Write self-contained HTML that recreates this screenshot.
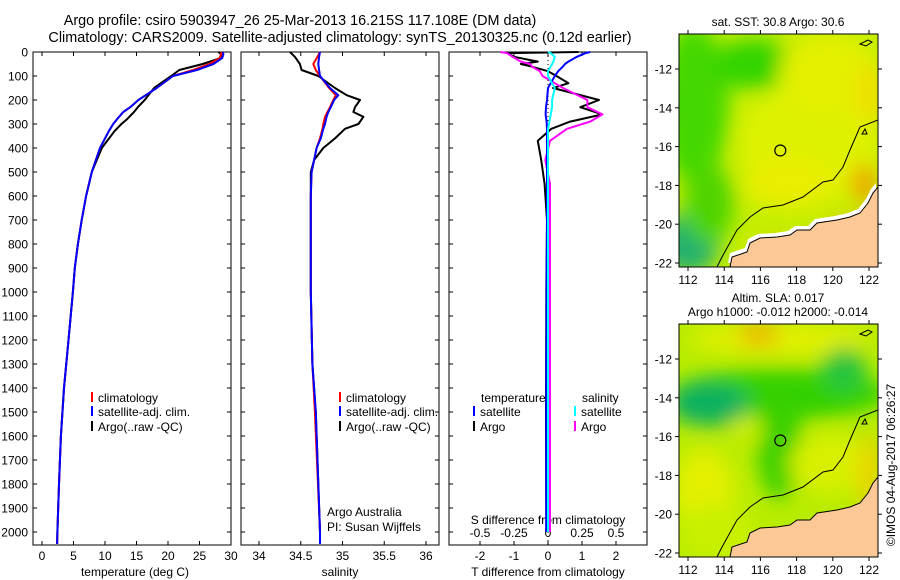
<!DOCTYPE html>
<html><head><meta charset="utf-8"><style>
body{margin:0;background:#fff}
svg{display:block;font-family:"Liberation Sans",sans-serif}
</style></head><body>
<svg id="s" width="900" height="580" viewBox="0 0 900 580" xmlns="http://www.w3.org/2000/svg">
<defs>
<filter id="bl" x="-50%" y="-50%" width="200%" height="200%"><feGaussianBlur stdDeviation="10"/></filter>
<clipPath id="c1"><rect x="679" y="34" width="199" height="233"/></clipPath>
<clipPath id="c2"><rect x="679" y="324" width="199" height="233"/></clipPath>
</defs>
<text x="300" y="25" font-size="14.4" text-anchor="middle">Argo profile: csiro 5903947_26 25-Mar-2013 16.215S 117.108E (DM data)</text>
<text x="340" y="42" font-size="14.4" text-anchor="middle">Climatology: CARS2009. Satellite-adjusted climatology: synTS_20130325.nc (0.12d earlier)</text>
<g id="maps"></g>
<g id="plots"></g>
<text transform="translate(895,465) rotate(-90)" font-size="12" text-anchor="middle">©IMOS 04-Aug-2017 06:26:27</text>
</svg>
<script>
// ---- data ----
var depthTicks=[0,100,200,300,400,500,600,700,800,900,1000,1100,1200,1300,1400,1500,1600,1700,1800,1900,2000];
var tempTicks=[0,5,10,15,20,25,30];
var salTicks=[34,34.5,35,35.5,36];
var tdTicks=[-2,-1,0,1,2];
var sdTicks=[-0.5,-0.25,0,0.25,0.5];
var sdTickLabels=["-0.5","-0.25","0","0.25","0.5"];
var lonTicks=[112,114,116,118,120,122];
var latTicks=[-12,-14,-16,-18,-20,-22];

var tDepth=[0,10,25,50,75,100,150,200,230,250,280,300,330,400,500,600,700,800,900,1000,1200,1400,1600,1800,2000,2050];
var tClim=[28.5,28.4,28.2,26.6,24.0,20.8,18.2,15.3,14.0,12.9,11.9,11.3,10.6,9.2,7.9,7.0,6.3,5.7,5.2,4.9,4.2,3.5,3.0,2.7,2.45,2.4];
var tSat=[28.7,28.8,28.6,27.2,24.6,20.8,18.2,15.3,14.0,12.9,11.9,11.3,10.6,9.2,7.9,7.0,6.3,5.7,5.2,4.9,4.2,3.5,3.0,2.7,2.45,2.4];
var tArgo=[28.0,28.5,28.4,25.5,21.8,20.5,17.8,16.3,15.2,14.6,13.5,12.6,11.5,9.5,7.9,7.0,6.3,5.7,5.2,4.9,4.2,3.5,3.0,2.7,2.45,2.4];

var sDepth=[0,20,50,75,100,150,180,200,230,250,270,300,320,360,400,450,500,600,1000,1300,1500,2000,2050];
var sClim=[34.73,34.70,34.65,34.68,34.73,34.84,34.92,34.89,34.85,34.82,34.79,34.77,34.76,34.73,34.69,34.66,34.63,34.62,34.62,34.64,34.67,34.73,34.73];
var sSat=[34.73,34.72,34.71,34.72,34.73,34.85,34.95,34.90,34.86,34.83,34.81,34.79,34.77,34.74,34.69,34.66,34.63,34.62,34.62,34.64,34.68,34.73,34.73];
var sArgo=[34.37,34.43,34.49,34.51,34.71,34.91,35.05,35.21,35.15,35.13,35.25,35.19,35.03,34.91,34.77,34.66,34.62,34.62,34.62,34.64,34.68,34.73,34.73];

var dDepth=[0,5,20,40,50,60,80,100,130,150,200,230,260,290,320,370,450,550,700,1000,1500,2000];
var dTSat=[1.24,1.1,0.85,0.6,0.5,0.44,0.3,0.2,0.08,0.0,-0.03,-0.06,-0.07,-0.04,-0.03,-0.03,-0.03,-0.03,-0.03,-0.04,-0.05,-0.05];
var dTArgo=[0.9,-1.2,-1.0,-0.3,-0.8,-0.5,0.0,0.25,0.6,0.15,1.5,0.95,1.6,0.65,0.1,-0.3,-0.2,-0.1,-0.03,-0.05,-0.06,-0.05];
var dSSat=[0.0,0.02,0.05,0.04,0.03,0.02,0.0,0.0,0.03,0.05,0.03,0.03,0.02,0.01,0.0,0.0,0.0,0.0,0.0,0.0,0.0,0.0];
var dSArgo=[-0.35,-0.3,-0.26,-0.2,-0.13,-0.12,-0.06,-0.04,0.05,0.11,0.29,0.29,0.4,0.31,0.14,0.015,-0.02,0.015,0.015,0.015,0.015,0.015];

var NS="http://www.w3.org/2000/svg";
var plots=document.getElementById('plots');
function mk(tag,attrs,parent){var e=document.createElementNS(NS,tag);for(var k in attrs)e.setAttribute(k,attrs[k]);(parent||plots).appendChild(e);return e;}
function yD(d){return 52+d*0.24;}
var PT=52,PB=545;
var panels=[
 {x0:33,x1:231,xs:function(v){return 42+v*6.3;}},
 {x0:241,x1:439,xs:function(v){return 259+(v-34)*83.5;}},
 {x0:449,x1:647,xs:function(v){return 548+v*34;}}
];
var sdx=function(v){return 548+v*136;};

function frame(p,name){
 var r=mk('rect',{x:p.x0,y:PT,width:p.x1-p.x0,height:PB-PT,fill:'#fff',stroke:'#000','stroke-width':1});
 
 
}
frame(panels[0],'temperature-panel');frame(panels[1],'salinity-panel');frame(panels[2],'difference-panel');

depthTicks.forEach(function(d){
 var y=yD(d);
 panels.forEach(function(p){
  mk('line',{x1:p.x0,x2:p.x0+4,y1:y,y2:y,stroke:'#000'});
  mk('line',{x1:p.x1,x2:p.x1-4,y1:y,y2:y,stroke:'#000'});
 });
 var t=mk('text',{x:28,y:y+4.5,'font-size':12,'text-anchor':'end'});
 t.textContent=d;
 
 
});
function xticks(p,vals,fn,labels,ly){
 vals.forEach(function(v,i){
  var x=fn(v);
  mk('line',{x1:x,x2:x,y1:PB,y2:PB-4,stroke:'#000'});
  mk('line',{x1:x,x2:x,y1:PT,y2:PT+4,stroke:'#000'});
  var t=mk('text',{x:x,y:ly,'font-size':12,'text-anchor':'middle'});
  t.textContent=labels?labels[i]:v;
  
  
 });
}
xticks(panels[0],tempTicks,panels[0].xs,null,560);
xticks(panels[1],salTicks,panels[1].xs,null,560);
xticks(panels[2],tdTicks,panels[2].xs,null,560);
sdTicks.forEach(function(v,i){
 var t=mk('text',{x:sdx(v),y:537,'font-size':12,'text-anchor':'middle'});
 t.textContent=sdTickLabels[i];
 
 
});
function label(x,y,txt,name,anchor){
 var t=mk('text',{x:x,y:y,'font-size':12,'text-anchor':anchor||'middle'});
 t.textContent=txt;
 
 
}
label(135,576,'temperature (deg C)','temperature-axis-title');
label(340,576,'salinity','salinity-axis-title');
label(548,576,'T difference from climatology','t-diff-axis-title');
label(548,524,'S difference from climatology','s-diff-axis-title');
label(327,516,'Argo Australia','argo-australia-label','start');
label(327,531,'PI: Susan Wijffels','pi-label','start');

mk('line',{x1:548,x2:548,y1:PT,y2:PB,stroke:'#000','stroke-dasharray':'1,3','stroke-width':1});

function line(fn,depths,vals,color,name,w){
 var pts=depths.map(function(d,i){return fn(vals[i]).toFixed(1)+','+yD(d).toFixed(1);}).join(' ');
 var l=mk('polyline',{points:pts,fill:'none',stroke:color,'stroke-width':w||2,'stroke-linejoin':'round'});
 
 
}
line(panels[0].xs,tDepth,tArgo,'#000','temp-argo-line');
line(panels[0].xs,tDepth,tClim,'#f00','temp-climatology-line');
line(panels[0].xs,tDepth,tSat,'#00f','temp-satellite-line');
line(panels[1].xs,sDepth,sArgo,'#000','sal-argo-line');
line(panels[1].xs,sDepth,sClim,'#f00','sal-climatology-line');
line(panels[1].xs,sDepth,sSat,'#00f','sal-satellite-line');
line(panels[2].xs,dDepth,dTArgo,'#000','tdiff-argo-line');
line(sdx,dDepth,dSArgo,'#f0f','sdiff-argo-line');
line(panels[2].xs,dDepth,dTSat,'#00f','tdiff-satellite-line');
line(sdx,dDepth,dSSat,'#0ff','sdiff-satellite-line');

function leg(x,y,color,txt,name){
 mk('line',{x1:x,x2:x,y1:y-10,y2:y,stroke:color,'stroke-width':2});
 var t=mk('text',{x:x+6,y:y,'font-size':12});
 t.textContent=txt;
 
 
}
leg(92,402,'#f00','climatology','legend-climatology');
leg(92,416,'#00f','satellite-adj. clim.','legend-satellite');
leg(92,431,'#000','Argo(..raw -QC)','legend-argo');
leg(340,402,'#f00','climatology','legend-climatology-2');
leg(340,416,'#00f','satellite-adj. clim.','legend-satellite-2');
leg(340,431,'#000','Argo(..raw -QC)','legend-argo-2');
label(481,402,'temperature','legend-temperature-header','start');
leg(474,416,'#00f','satellite','legend-t-satellite');
leg(474,431,'#000','Argo','legend-t-argo');
label(582,402,'salinity','legend-salinity-header','start');
leg(575,416,'#0ff','satellite','legend-s-satellite');
leg(575,431,'#f0f','Argo','legend-s-argo');

// ---- maps ----
var maps=document.getElementById('maps');
var coast=[[51,233],[53,223],[68,218],[71,209],[81,204],[98,203],[111,201],[118,196],[131,196],[138,189],[158,186],[171,183],[181,179],[189,169],[194,159],[199,153],[199,233]];
var contour=[[38,233],[43,223],[58,196],[71,183],[84,174],[104,171],[124,163],[144,148],[154,146],[164,133],[171,116],[181,93],[199,86]];
function mm(tag,attrs,parent){var e=document.createElementNS(NS,tag);for(var k in attrs)e.setAttribute(k,attrs[k]);parent.appendChild(e);return e;}
function drawMap(top,blobs,bg,name,white){
 var g=mm('g',{},maps);
 
 
 var cg=mm('g',{'clip-path':'url(#c'+(top===34?1:2)+')'},g);
 mm('rect',{x:679,y:top,width:199,height:233,fill:bg},cg);
 var bg2=mm('g',{filter:'url(#bl)'},cg);
 blobs.forEach(function(b){mm('ellipse',{cx:679+b[0],cy:top+b[1],rx:b[2],ry:b[3],fill:b[4]},bg2);});
 if(white){mm('polygon',{points:coast.map(function(p){return (679+p[0]-2)+','+(top+p[1]-4);}).join(' ')+' 878,'+(top+233),fill:'#fff'},cg);}
 mm('polygon',{points:coast.map(function(p){return (679+p[0])+','+(top+p[1]);}).join(' '),fill:'#fcc895',stroke:'#000','stroke-width':1},cg);
 mm('polyline',{points:contour.map(function(p){return (679+p[0])+','+(top+p[1]);}).join(' '),fill:'none',stroke:'#000','stroke-width':1},cg);
 mm('path',{d:'M'+(679+181)+','+(top+10)+' l8,-4 l4,2 l-6,4z',fill:'none',stroke:'#000'},cg);
 mm('path',{d:'M'+(679+183)+','+(top+100)+' l3,-5 l2,5z',fill:'none',stroke:'#000'},cg);
 mm('rect',{x:679,y:top,width:199,height:233,fill:'none',stroke:'#000'},g);
 mm('circle',{cx:688+(117.1-112)*18.1,cy:top+35+(16.2-12)*19.4,r:5.5,fill:'none',stroke:'#000','stroke-width':1.2},g);
 lonTicks.forEach(function(v){
  var x=688+(v-112)*18.1;
  mm('line',{x1:x,x2:x,y1:top,y2:top-4,stroke:'#000'},g);
  mm('line',{x1:x,x2:x,y1:top+233,y2:top+237,stroke:'#000'},g);
  var t=mm('text',{x:x,y:top+250,'font-size':12,'text-anchor':'middle'},g);t.textContent=v;
  
  
 });
 latTicks.forEach(function(v){
  var y=top+35+(-12-v)*19.4;
  mm('line',{x1:679,x2:675,y1:y,y2:y,stroke:'#000'},g);
  mm('line',{x1:878,x2:882,y1:y,y2:y,stroke:'#000'},g);
  var t=mm('text',{x:672,y:y+4.5,'font-size':12,'text-anchor':'end'},g);t.textContent=v;
  
  
 });
}
drawMap(34,[
 [15,70,35,80,'#44d800'],[75,30,40,25,'#30d400'],[10,210,30,30,'#20b070'],[30,170,25,40,'#50d400'],
 [130,110,70,60,'#def200'],[150,40,50,40,'#e4f000'],[190,60,15,30,'#f0e000'],[110,150,45,25,'#eaee00'],
 [185,150,12,20,'#f0a000'],[170,195,25,8,'#f0b000'],[100,215,25,6,'#f0c000']
],'#c4ee00','sst-map',true);
drawMap(324,[
 [100,15,90,15,'#e4f000'],[80,10,20,12,'#f0b800'],[100,70,110,25,'#30d000'],[30,80,40,22,'#10b060'],
 [165,45,22,22,'#28c440'],[100,120,22,55,'#38d000'],[25,165,30,40,'#e4f000'],[70,105,14,14,'#d0f000'],
 [150,140,40,30,'#d8f000'],[190,150,10,40,'#f0d000'],[40,210,40,30,'#c8f000']
],'#b8ec00','sla-map',false);
var tt=[[778,26,'sat. SST: 30.8  Argo: 30.6','sst-map-title'],[778,302,'Altim. SLA: 0.017','sla-map-title'],[778,316,'Argo h1000: -0.012 h2000: -0.014','argo-height-title']];
tt.forEach(function(a){var t=mm('text',{x:a[0],y:a[1],'font-size':12,'text-anchor':'middle'},maps);t.textContent=a[2];
 
 });
</script>
</body></html>
